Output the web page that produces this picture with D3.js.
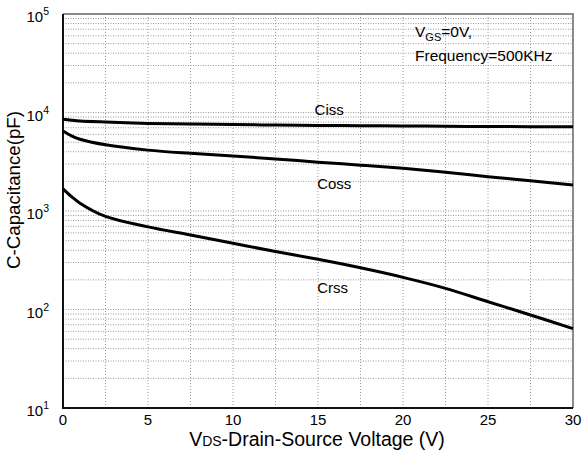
<!DOCTYPE html>
<html>
<head>
<meta charset="utf-8">
<script src="https://cdn.jsdelivr.net/npm/d3@7"></script>
<style>
body { margin: 0; background: #fff; }
svg { display: block; font-family: "Liberation Sans", Arial, sans-serif; }
</style>
</head>
<body>
<div id="chart"></div>
<script>
// values
const volts = [0, 0.5, 1, 2.5, 5, 7.5, 10, 12.5, 15, 17.5, 20, 22.5, 25, 27.5, 30]
const ciss = [8550, 8350, 8200, 8000, 7750, 7630, 7550, 7460, 7400, 7340, 7300, 7250, 7210, 7180, 7150]
const coss = [6500, 5800, 5350, 4700, 4150, 3850, 3620, 3380, 3130, 2920, 2710, 2470, 2230, 2030, 1840]
const crss = [1680, 1400, 1200, 880, 690, 570, 470, 388, 323, 265, 212, 164, 120, 88, 64]
const xTicks = [0, 5, 10, 15, 20, 25, 30]
const yDecades = [1, 2, 3, 4, 5]

const width = 582, height = 455
const m = {left: 63, top: 14, right: 9, bottom: 47}

const svg = d3.select("#chart").append("svg")
    .attr("width", width)
    .attr("height", height)

const x = d3.scaleLinear().domain([0, 30]).range([m.left, width - m.right])
const y = d3.scaleLog().domain([10, 100000]).range([height - m.bottom, m.top])

// grid
let minor = []
yDecades.slice(0, -1).forEach(e => {
    for (let k = 1; k < 10; k++) minor.push(k * Math.pow(10, e))
})
svg.append("g")
    .selectAll("line")
    .data(minor)
    .join("line")
    .attr("x1", x(0)).attr("x2", x(30))
    .attr("y1", d => y(d)).attr("y2", d => y(d))
    .attr("stroke", "#9a9a9a")
    .attr("stroke-dasharray", "1,1.5")

svg.append("g")
    .selectAll("line")
    .data(d3.range(2.5, 30, 2.5))
    .join("line")
    .attr("x1", d => x(d)).attr("x2", d => x(d))
    .attr("y1", y(10)).attr("y2", y(100000))
    .attr("stroke", "#9a9a9a")
    .attr("stroke-dasharray", "1,2")

// frame
svg.append("path")
    .attr("d", `M${x(0)},${y(100000)}H${x(30)}V${y(10)}`)
    .attr("fill", "none")
    .attr("stroke", "#666")
    .attr("stroke-width", 1.5)
svg.append("path")
    .attr("d", `M${x(0)},${y(100000)}V${y(10)}H${x(30)}`)
    .attr("fill", "none")
    .attr("stroke", "#111")
    .attr("stroke-width", 2)

// curves
const line = d3.line()
    .x((d, i) => x(volts[i]))
    .y(d => y(d))
    .curve(d3.curveCatmullRom.alpha(0.5))

svg.append("g")
    .selectAll("path")
    .data([ciss, coss, crss])
    .join("path")
    .attr("d", d => line(d))
    .attr("fill", "none")
    .attr("stroke", "#000")
    .attr("stroke-width", 3)

// x tick labels
svg.append("g")
    .selectAll("text")
    .data(xTicks)
    .join("text")
    .attr("x", d => x(d))
    .attr("y", 425)
    .attr("text-anchor", "middle")
    .attr("font-size", 15)
    .text(d => d)

// y tick labels 10^n
const yl = svg.append("g")
    .selectAll("text")
    .data(yDecades)
    .join("text")
    .attr("x", 49)
    .attr("y", d => y(Math.pow(10, d)) + 8)
    .attr("text-anchor", "end")
    .attr("font-size", 15)
yl.append("tspan").text("10")
yl.append("tspan").attr("dy", -7).attr("font-size", 10.5).text(d => d)

// axis titles
const xt = svg.append("text")
    .attr("x", 317)
    .attr("y", 446)
    .attr("text-anchor", "middle")
    .attr("font-size", 19.5)
xt.append("tspan").text("V")
xt.append("tspan").attr("font-size", 14).text("DS")
xt.append("tspan").text("-Drain-Source Voltage (V)")

svg.append("text")
    .attr("transform", "translate(20,190) rotate(-90)")
    .attr("text-anchor", "middle")
    .attr("font-size", 18.7)
    .text("C-Capacitance(pF)")

// curve labels
const labels = [["Ciss", 14.8, 9440], ["Coss", 14.95, 1672], ["Crss", 14.95, 147]]
svg.append("g")
    .selectAll("text")
    .data(labels)
    .join("text")
    .attr("x", d => x(d[1]))
    .attr("y", d => y(d[2]))
    .attr("font-size", 15)
    .text(d => d[0])

// condition note
const note = svg.append("text")
    .attr("x", 415)
    .attr("y", 37)
    .attr("font-size", 15.5)
note.append("tspan").text("V")
note.append("tspan").attr("dy", 4).attr("font-size", 11).text("GS")
note.append("tspan").attr("dy", -4).text("=0V,")
svg.append("text")
    .attr("x", 415)
    .attr("y", 61)
    .attr("font-size", 15.5)
    .text("Frequency=500KHz")
</script>
</body>
</html>
